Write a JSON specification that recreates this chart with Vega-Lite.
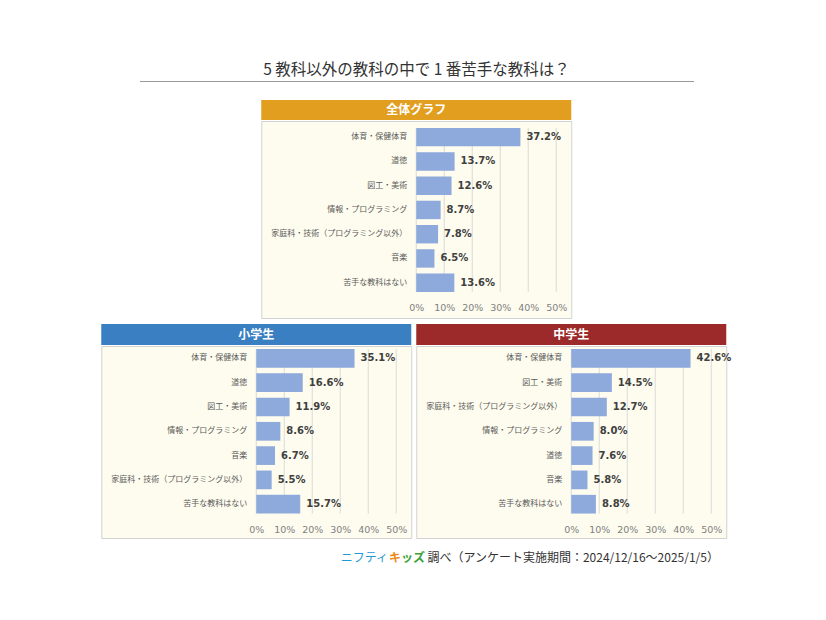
{
  "$schema": "https://vega.github.io/schema/vega-lite/v6.json",
  "background": "white",
  "padding": {"left": 100, "top": 62, "right": 0, "bottom": 0},
  "spacing": 5,
  "center": true,
  "datasets": {
    "survey": [
      {"group": "全体", "subject": "体育・保健体育", "pct": 0.372},
      {"group": "全体", "subject": "道徳", "pct": 0.137},
      {"group": "全体", "subject": "図工・美術", "pct": 0.126},
      {"group": "全体", "subject": "情報・プログラミング", "pct": 0.087},
      {"group": "全体", "subject": "家庭科・技術（プログラミング以外）", "pct": 0.078},
      {"group": "全体", "subject": "音楽", "pct": 0.065},
      {"group": "全体", "subject": "苦手な教科はない", "pct": 0.136},
      {"group": "小学生", "subject": "体育・保健体育", "pct": 0.351},
      {"group": "小学生", "subject": "道徳", "pct": 0.166},
      {"group": "小学生", "subject": "図工・美術", "pct": 0.119},
      {"group": "小学生", "subject": "情報・プログラミング", "pct": 0.086},
      {"group": "小学生", "subject": "音楽", "pct": 0.067},
      {"group": "小学生", "subject": "家庭科・技術（プログラミング以外）", "pct": 0.055},
      {"group": "小学生", "subject": "苦手な教科はない", "pct": 0.157},
      {"group": "中学生", "subject": "体育・保健体育", "pct": 0.426},
      {"group": "中学生", "subject": "図工・美術", "pct": 0.145},
      {"group": "中学生", "subject": "家庭科・技術（プログラミング以外）", "pct": 0.127},
      {"group": "中学生", "subject": "情報・プログラミング", "pct": 0.080},
      {"group": "中学生", "subject": "道徳", "pct": 0.076},
      {"group": "中学生", "subject": "音楽", "pct": 0.058},
      {"group": "中学生", "subject": "苦手な教科はない", "pct": 0.088}
    ],
    "ticks": [{"v": 0}, {"v": 0.1}, {"v": 0.2}, {"v": 0.3}, {"v": 0.4}, {"v": 0.5}]
  },
  "vconcat": [
    {
      "width": 554,
      "height": 14,
      "view": {"stroke": null},
      "title": {"text": "5 教科以外の教科の中で 1 番苦手な教科は？", "fontSize": 15.5, "fontWeight": "normal", "font": "Noto Sans CJK JP", "color": "#333333", "offset": 3, "anchor": "middle"},
      "data": {"values": [{"t": ""}]},
      "mark": {"type": "text"},
      "encoding": {
        "x": {"datum": 0, "type": "quantitative", "scale": {"domain": [0, 1]}, "axis": {"orient": "top", "domain": true, "domainColor": "#9a9a9a", "domainWidth": 1, "ticks": false, "labels": false, "grid": false, "title": null}},
        "text": {"field": "t"}
      }
    },
    {
      "spacing": 0,
      "vconcat": [
        {
          "width": 310,
          "height": 20,
          "view": {"fill": "#E19E1F", "stroke": null},
          "data": {"values": [{"h": "全体グラフ"}]},
          "mark": {"type": "text", "color": "white", "fontWeight": "bold", "fontSize": 12, "font": "Noto Sans CJK JP"},
          "encoding": {"text": {"field": "h"}}
        },
        {
          "width": 310,
          "height": 197,
          "view": {"fill": "#FEFCEF", "stroke": "#D2D2D2"},
          "encoding": {
            "x": {"type": "quantitative", "scale": {"domain": [-0.5536, 0.5536], "nice": false, "zero": false},
              "axis": {"orient": "bottom", "values": [0, 0.1, 0.2, 0.3, 0.4, 0.5], "format": ".0%", "domain": false, "ticks": false, "grid": false, "title": null, "offset": -18, "labelPadding": 2, "labelFontSize": 9.5, "labelColor": "#7f7f7f", "labelFont": "DejaVu Sans", "labelOverlap": false, "labelFlush": false}},
            "y": {"type": "nominal", "scale": {"type": "band", "domain": ["体育・保健体育", "道徳", "図工・美術", "情報・プログラミング", "家庭科・技術（プログラミング以外）", "音楽", "苦手な教科はない"], "paddingInner": 0.24, "paddingOuter": 0.68, "align": 0.21}, "axis": null}
          },
          "layer": [
            {
              "data": {"name": "ticks"},
              "mark": {"type": "rule", "color": "#DADADA", "strokeWidth": 1},
              "encoding": {
                "x": {"field": "v"},
                "y": {"datum": "体育・保健体育", "bandPosition": 0},
                "y2": {"datum": "苦手な教科はない", "bandPosition": 1}
              }
            },
            {
              "data": {"name": "survey"},
              "transform": [{"filter": "datum.group === '全体'"}],
              "layer": [
                {"mark": {"type": "bar", "color": "#8EA9DB"}, "encoding": {"x": {"field": "pct"}, "y": {"field": "subject"}}},
                {"mark": {"type": "text", "align": "left", "dx": 6, "font": "DejaVu Sans", "fontWeight": "bold", "fontSize": 10, "color": "#404040"},
                  "encoding": {"x": {"field": "pct"}, "y": {"field": "subject"}, "text": {"field": "pct", "format": ".1%"}}},
                {"mark": {"type": "text", "align": "right", "dx": -9, "font": "Noto Sans CJK JP", "fontSize": 8, "color": "#595959"},
                  "encoding": {"x": {"datum": 0}, "y": {"field": "subject"}, "text": {"field": "subject"}}}
              ]
            }
          ]
        }
      ]
    },
    {
      "spacing": 3,
      "hconcat": [
        {
          "spacing": 0,
          "vconcat": [
            {
              "width": 310,
              "height": 21,
              "view": {"fill": "#3A7FC2", "stroke": null},
              "data": {"values": [{"h": "小学生"}]},
              "mark": {"type": "text", "color": "white", "fontWeight": "bold", "fontSize": 12, "font": "Noto Sans CJK JP"},
              "encoding": {"text": {"field": "h"}}
            },
            {
              "width": 310,
              "height": 192,
              "view": {"fill": "#FEFCEF", "stroke": "#D2D2D2"},
              "encoding": {
                "x": {"type": "quantitative", "scale": {"domain": [-0.5536, 0.5536], "nice": false, "zero": false},
                  "axis": {"orient": "bottom", "values": [0, 0.1, 0.2, 0.3, 0.4, 0.5], "format": ".0%", "domain": false, "ticks": false, "grid": false, "title": null, "offset": -16, "labelPadding": 2, "labelFontSize": 9.5, "labelColor": "#7f7f7f", "labelFont": "DejaVu Sans", "labelOverlap": false, "labelFlush": false}},
                "y": {"type": "nominal", "scale": {"type": "band", "domain": ["体育・保健体育", "道徳", "図工・美術", "情報・プログラミング", "音楽", "家庭科・技術（プログラミング以外）", "苦手な教科はない"], "paddingInner": 0.23, "paddingOuter": 0.565, "align": 0.11}, "axis": null}
              },
              "layer": [
                {
                  "data": {"name": "ticks"},
                  "mark": {"type": "rule", "color": "#DADADA", "strokeWidth": 1},
                  "encoding": {
                    "x": {"field": "v"},
                    "y": {"datum": "体育・保健体育", "bandPosition": 0},
                    "y2": {"datum": "苦手な教科はない", "bandPosition": 1}
                  }
                },
                {
                  "data": {"name": "survey"},
                  "transform": [{"filter": "datum.group === '小学生'"}],
                  "layer": [
                    {"mark": {"type": "bar", "color": "#8EA9DB"}, "encoding": {"x": {"field": "pct"}, "y": {"field": "subject"}}},
                    {"mark": {"type": "text", "align": "left", "dx": 6, "font": "DejaVu Sans", "fontWeight": "bold", "fontSize": 10, "color": "#404040"},
                      "encoding": {"x": {"field": "pct"}, "y": {"field": "subject"}, "text": {"field": "pct", "format": ".1%"}}},
                    {"mark": {"type": "text", "align": "right", "dx": -9, "font": "Noto Sans CJK JP", "fontSize": 8, "color": "#595959"},
                      "encoding": {"x": {"datum": 0}, "y": {"field": "subject"}, "text": {"field": "subject"}}}
                  ]
                }
              ]
            }
          ]
        },
        {
          "spacing": 0,
          "vconcat": [
            {
              "width": 310,
              "height": 21,
              "view": {"fill": "#9C2A2A", "stroke": null},
              "data": {"values": [{"h": "中学生"}]},
              "mark": {"type": "text", "color": "white", "fontWeight": "bold", "fontSize": 12, "font": "Noto Sans CJK JP"},
              "encoding": {"text": {"field": "h"}}
            },
            {
              "width": 310,
              "height": 192,
              "view": {"fill": "#FEFCEF", "stroke": "#D2D2D2"},
              "encoding": {
                "x": {"type": "quantitative", "scale": {"domain": [-0.5536, 0.5536], "nice": false, "zero": false},
                  "axis": {"orient": "bottom", "values": [0, 0.1, 0.2, 0.3, 0.4, 0.5], "format": ".0%", "domain": false, "ticks": false, "grid": false, "title": null, "offset": -16, "labelPadding": 2, "labelFontSize": 9.5, "labelColor": "#7f7f7f", "labelFont": "DejaVu Sans", "labelOverlap": false, "labelFlush": false}},
                "y": {"type": "nominal", "scale": {"type": "band", "domain": ["体育・保健体育", "図工・美術", "家庭科・技術（プログラミング以外）", "情報・プログラミング", "道徳", "音楽", "苦手な教科はない"], "paddingInner": 0.23, "paddingOuter": 0.565, "align": 0.11}, "axis": null}
              },
              "layer": [
                {
                  "data": {"name": "ticks"},
                  "mark": {"type": "rule", "color": "#DADADA", "strokeWidth": 1},
                  "encoding": {
                    "x": {"field": "v"},
                    "y": {"datum": "体育・保健体育", "bandPosition": 0},
                    "y2": {"datum": "苦手な教科はない", "bandPosition": 1}
                  }
                },
                {
                  "data": {"name": "survey"},
                  "transform": [{"filter": "datum.group === '中学生'"}],
                  "layer": [
                    {"mark": {"type": "bar", "color": "#8EA9DB"}, "encoding": {"x": {"field": "pct"}, "y": {"field": "subject"}}},
                    {"mark": {"type": "text", "align": "left", "dx": 6, "font": "DejaVu Sans", "fontWeight": "bold", "fontSize": 10, "color": "#404040"},
                      "encoding": {"x": {"field": "pct"}, "y": {"field": "subject"}, "text": {"field": "pct", "format": ".1%"}}},
                    {"mark": {"type": "text", "align": "right", "dx": -9, "font": "Noto Sans CJK JP", "fontSize": 8, "color": "#595959"},
                      "encoding": {"x": {"datum": 0}, "y": {"field": "subject"}, "text": {"field": "subject"}}}
                  ]
                }
              ]
            }
          ]
        }
      ]
    },
    {
      "width": 605,
      "height": 28,
      "view": {"stroke": null},
      "encoding": {
        "x": {"datum": 1, "type": "quantitative", "scale": {"domain": [0, 1]}, "axis": null}
      },
      "layer": [
        {
          "data": {"values": [{"t": "調べ（アンケート実施期間：2024/12/16～2025/1/5）"}]},
          "mark": {"type": "text", "align": "right", "font": "Noto Sans CJK JP", "fontSize": 12, "color": "#333333"},
          "encoding": {"text": {"field": "t"}}
        },
        {
          "data": {"values": [{"t": "ッズ"}]},
          "mark": {"type": "text", "align": "right", "dx": -294, "font": "Noto Sans CJK JP", "fontWeight": "bold", "fontSize": 12, "color": "#3AA335"},
          "encoding": {"text": {"field": "t"}}
        },
        {
          "data": {"values": [{"t": "キ"}]},
          "mark": {"type": "text", "align": "right", "dx": -318, "font": "Noto Sans CJK JP", "fontWeight": "bold", "fontSize": 12, "color": "#EE8A1A"},
          "encoding": {"text": {"field": "t"}}
        },
        {
          "data": {"values": [{"t": "ニフティ"}]},
          "mark": {"type": "text", "align": "right", "dx": -331, "font": "Noto Sans CJK JP", "fontSize": 12, "color": "#1E9AD6"},
          "encoding": {"text": {"field": "t"}}
        }
      ]
    }
  ]
}
